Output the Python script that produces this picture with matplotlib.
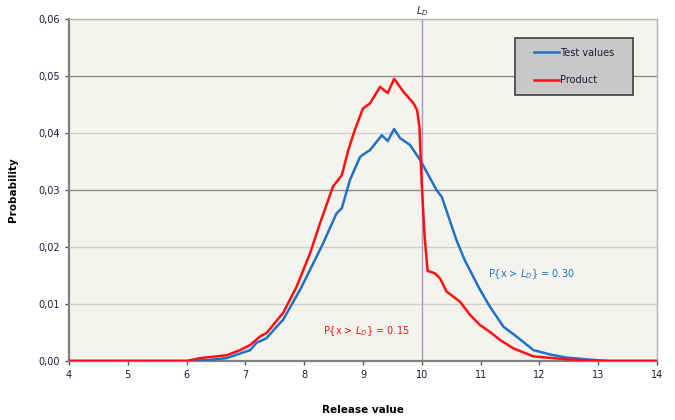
import matplotlib
matplotlib.use("Agg")
import matplotlib.pyplot as plt
from matplotlib.patches import Rectangle

# values
test_x = [4.0, 6.0, 6.4, 6.68, 7.02, 7.08, 7.19, 7.3, 7.36, 7.53, 7.64, 7.93, 8.1, 8.32,
          8.55, 8.64, 8.78, 8.95, 9.0, 9.12, 9.32, 9.42, 9.53, 9.63, 9.8, 9.97, 10.25,
          10.34, 10.59, 10.73, 10.99, 11.16, 11.39, 11.61, 11.9, 12.2, 12.46, 12.9, 13.2,
          14.0]
test_y = [0.0, 0.0, 0.0002, 0.0005, 0.0017, 0.0019, 0.0032, 0.0037, 0.004, 0.006, 0.0072,
          0.0125, 0.016, 0.0206, 0.0259, 0.0268, 0.0318, 0.0358, 0.0362, 0.037, 0.0396,
          0.0386, 0.0407, 0.0391, 0.0379, 0.0353, 0.030, 0.0288, 0.0212, 0.0177, 0.0125,
          0.0095, 0.006, 0.0043, 0.0019, 0.0011, 0.0006, 0.0002, 0.0, 0.0]

prod_x = [4.0, 6.0, 6.23, 6.68, 6.91, 7.08, 7.25, 7.3, 7.36, 7.59, 7.64, 7.87, 8.1, 8.27,
          8.49, 8.64, 8.75, 8.86, 9.0, 9.12, 9.29, 9.42, 9.53, 9.69, 9.86, 9.92, 9.96,
          10.0, 10.05, 10.1, 10.22, 10.31, 10.42, 10.65, 10.82, 10.99, 11.16, 11.33,
          11.56, 11.9, 12.46, 13.0, 14.0]
prod_y = [0.0, 0.0, 0.0005, 0.001, 0.0019, 0.0028, 0.0043, 0.0046, 0.0049, 0.0078,
          0.0084, 0.013, 0.0189, 0.0242, 0.0306, 0.0326, 0.037, 0.0405, 0.0443, 0.0452,
          0.0481, 0.047, 0.0495, 0.0472, 0.0452, 0.044, 0.041, 0.031, 0.0215, 0.0158,
          0.0154, 0.0145, 0.0122, 0.0104, 0.0081, 0.0063, 0.0051, 0.0037, 0.0022, 0.0008,
          0.0003, 0.0, 0.0]

LIMIT = 10.0
x_ticks = list(range(4, 15))
y_ticks = [0.0, 0.01, 0.02, 0.03, 0.04, 0.05, 0.06]
y_tick_labels = ["0,00", "0,01", "0,02", "0,03", "0,04", "0,05", "0,06"]

BLUE = "#1f72c4"
RED = "#ff1010"
TXT = "#1c1840"

fig = plt.figure(figsize=(6.75, 4.2), dpi=100)
ax = fig.add_axes([0.1022, 0.1405, 0.8711, 0.8143])
ax.set_facecolor("#f4f3ee")

for yv in y_ticks[1:-1]:
    dark = abs(yv - 0.05) < 1e-9 or abs(yv - 0.03) < 1e-9
    ax.axhline(yv, color="#8a8a8a" if dark else "#cfcfcc", lw=1.0, zorder=1)

ax.plot(test_x, test_y, color=BLUE, lw=1.8, label="Test values", zorder=3)
ax.plot(prod_x, prod_y, color=RED, lw=1.8, label="Product", zorder=4)

ax.axvline(LIMIT, color="#b890c8", lw=1.0, zorder=2)
ax.text(LIMIT, 0.0601, "$L_D$", ha="center", va="bottom", fontsize=7, color="#222222")

ax.set_xlim(4, 14)
ax.set_ylim(0, 0.06)
ax.set_xticks(x_ticks)
ax.set_yticks(y_ticks)
ax.set_yticklabels(y_tick_labels)
ax.tick_params(axis="both", labelsize=7, colors="#555555", labelcolor=TXT,
               direction="out", length=3, width=1)

for side in ("left", "bottom"):
    ax.spines[side].set_color("#808080")
    ax.spines[side].set_linewidth(1.6)
for side in ("top", "right"):
    ax.spines[side].set_color("#b0b0b0")
    ax.spines[side].set_linewidth(1.0)

ax.set_xlabel("Release value", fontsize=7.5, fontweight="bold", labelpad=18)
ax.set_ylabel("Probability", fontsize=7.5, fontweight="bold")
ax.yaxis.set_label_coords(-0.087, 0.5)

ax.text(11.12, 0.0152, "P{x > $L_D$} = 0.30", color=BLUE, fontsize=7, ha="left", va="center")
ax.text(8.32, 0.0052, "P{x > $L_D$} = 0.15", color=RED, fontsize=7, ha="left", va="center")

# legend box drawn by hand (wider side padding than legend's borderpad allows)
ax.add_patch(Rectangle((0.7585, 0.778), 0.2005, 0.1665, transform=ax.transAxes,
                       facecolor="#c8c8c8", edgecolor="#404040", lw=1.2, zorder=5))
leg = ax.legend(loc="center", bbox_to_anchor=(0.859, 0.861), fontsize=7,
                frameon=False, labelspacing=1.8, handlelength=2.5, handletextpad=0.1,
                borderaxespad=0, borderpad=0)
leg.set_zorder(6)
for t in leg.get_texts():
    t.set_color(TXT)

fig.savefig("out.png", dpi=100)
